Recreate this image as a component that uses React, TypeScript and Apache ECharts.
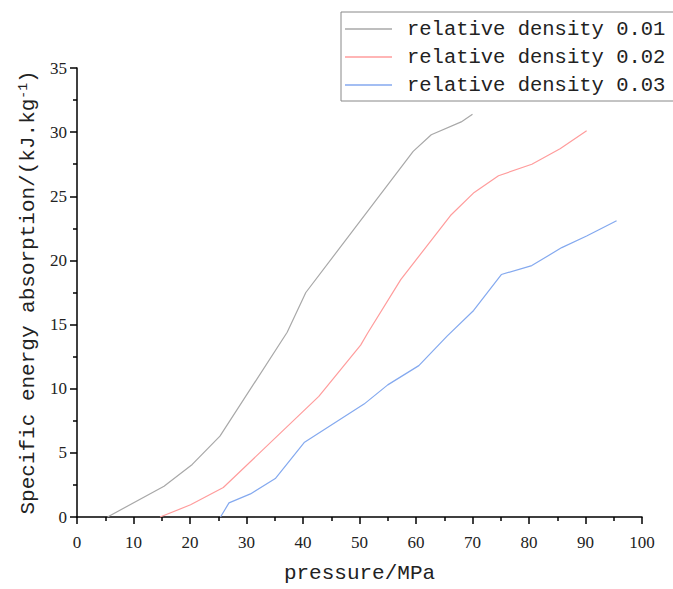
import React, { useEffect, useRef } from "react";
import * as echarts from "echarts";

const seriesNames = ["relative density 0.01", "relative density 0.02", "relative density 0.03"];

const density001: [number, number][] = [
  [5.4, 0], [15.4, 2.4], [20.4, 4.1], [25.3, 6.3], [37.2, 14.4], [40.5, 17.5],
  [59.5, 28.5], [62.7, 29.8], [68, 30.8], [70, 31.4],
];

const density002: [number, number][] = [
  [14.7, 0], [20.1, 0.95], [25.9, 2.3], [42.8, 9.4], [50.2, 13.4], [51.4, 14.3],
  [57.3, 18.5], [66.1, 23.5], [70.3, 25.3], [74.6, 26.6], [80.5, 27.5],
  [85.5, 28.7], [90.2, 30.1],
];

const density003: [number, number][] = [
  [25.4, 0], [26.9, 1.1], [30.7, 1.8], [35.1, 3.0], [40.2, 5.8], [50.8, 8.8],
  [55, 10.3], [60.5, 11.8], [65.5, 14.1], [70.2, 16.1], [75.1, 18.9],
  [80.5, 19.6], [85.8, 21.0], [90.2, 21.9], [95.5, 23.1],
];

const colors = ["#a8a8a8", "#ff9c9c", "#84a9ef"];

const xTitle = "pressure/MPa";
const yTitle = "{t|Specific energy absorption/(kJ.kg}{s|-1}{t|)}";

const mono = "'Liberation Mono', 'DejaVu Sans Mono', monospace";
const serif = "'Liberation Serif', 'DejaVu Serif', serif";

export default function App() {
  const ref = useRef<HTMLDivElement>(null);
  useEffect(() => {
    if (!ref.current) return;
    const chart = echarts.init(ref.current, undefined, { renderer: "svg" });
    const datasets = [density001, density002, density003];
    const axisLine = { show: true, onZero: false, lineStyle: { color: "#000", width: 1.5 } };
    chart.setOption({
      animation: false,
      backgroundColor: "#fff",
      grid: { left: 77, right: 31, top: 68, bottom: 67, containLabel: false },
      legend: {
        orient: "vertical",
        left: 341,
        top: 12,
        padding: [5, 10, 4, 4],
        itemWidth: 47,
        itemHeight: 1.5,
        itemGap: 4,
        icon: "rect",
        borderColor: "#888",
        borderWidth: 1,
        data: seriesNames,
        textStyle: { fontFamily: mono, fontSize: 20.5, color: "#222", lineHeight: 24, padding: [0, 0, 0, 10] },
      },
      xAxis: {
        type: "value",
        min: 0,
        max: 100,
        interval: 10,
        name: xTitle,
        nameLocation: "middle",
        nameGap: 46,
        nameTextStyle: { fontFamily: mono, fontSize: 21, color: "#222" },
        axisLine,
        axisTick: { show: true, length: 7, lineStyle: { color: "#000", width: 1.5 } },
        minorTick: { show: true, splitNumber: 2, length: 4, lineStyle: { color: "#000", width: 1.5 } },
        axisLabel: { fontFamily: serif, fontSize: 17, color: "#222", margin: 17 },
        splitLine: { show: false },
      },
      yAxis: {
        type: "value",
        min: 0,
        max: 35,
        interval: 5,
        name: yTitle,
        nameLocation: "middle",
        nameGap: 36,
        nameTextStyle: {
          fontFamily: mono,
          fontSize: 21,
          color: "#222",
          rich: {
            t: { fontFamily: mono, fontSize: 21, color: "#222" },
            s: { fontFamily: mono, fontSize: 13, color: "#222", verticalAlign: "top", padding: [0, 0, 10, 0] },
          },
        },
        axisLine,
        axisTick: { show: true, length: 7, lineStyle: { color: "#000", width: 1.5 } },
        minorTick: { show: true, splitNumber: 2, length: 4, lineStyle: { color: "#000", width: 1.5 } },
        axisLabel: { fontFamily: serif, fontSize: 17, color: "#222", margin: 10 },
        splitLine: { show: false },
      },
      series: datasets.map((d, i) => ({
        name: seriesNames[i],
        type: "line",
        data: d,
        symbol: "none",
        color: colors[i],
        lineStyle: { width: 1.2, color: colors[i] },
      })),
    });
    return () => chart.dispose();
  }, []);
  return <div ref={ref} style={{ width: 673, height: 589, position: "absolute", left: 0, top: 0 }} />;
}
